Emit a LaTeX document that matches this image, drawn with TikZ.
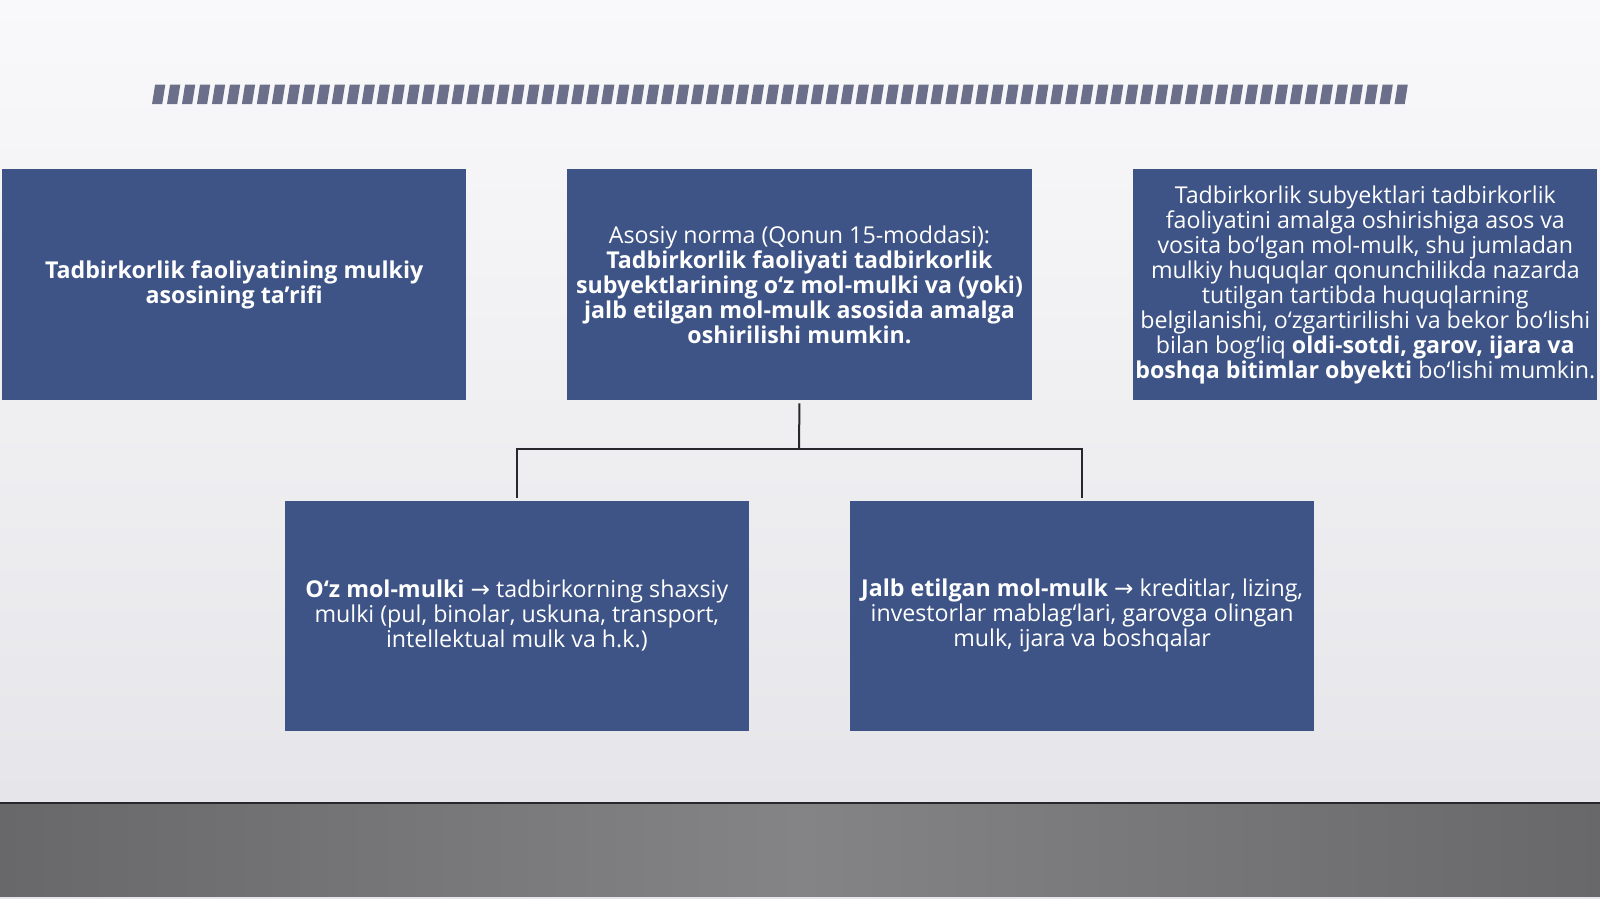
\documentclass[tikz,border=0pt]{standalone}
\usepackage{fontspec}
\setmainfont{Open Sans}
\newfontfamily\arrowfont{DejaVu Sans}
\definecolor{boxblue}{RGB}{62,84,134}
\definecolor{stripe}{RGB}{108,111,138}
\definecolor{bgtop}{RGB}{249,249,251}
\definecolor{bgbot}{RGB}{230,230,234}
\definecolor{floorA}{RGB}{104,104,106}
\definecolor{floorB}{RGB}{132,132,134}
\definecolor{linec}{RGB}{40,40,44}
\newcommand{\arr}{{\arrowfont →}}
\begin{document}
\begin{tikzpicture}[x=0.5102pt,y=-0.5102pt,
  bluebox/.style={fill=boxblue,text=white,inner sep=0pt,
    minimum width=232.1pt,minimum height=115.3pt,align=center,
    font=\fontsize{11.6}{12.5}\selectfont},
  conn/.style={draw=linec,line width=1pt}]
\useasboundingbox (0,0) rectangle (1568,881);
\shade[top color=bgtop,bottom color=bgbot] (0,0) rectangle (1568,786);
\shade[left color=floorA,right color=floorA,middle color=floorB] (0,786) rectangle (1568,879);
\fill[bgbot] (0,879) rectangle (1568,881);
\draw[linec,line width=1pt] (0,787) -- (1568,787);
% dashed bar
\foreach \i in {0,...,83}{
  \fill[stripe] ({149+\i*14.67},102) -- ({159+\i*14.67},102) -- ({162+\i*14.67},83) -- ({152+\i*14.67},83) -- cycle;
}
% boxes
\node[bluebox] (b1) at (229.5,279) {\textbf{Tadbirkorlik faoliyatining mulkiy}\\\textbf{asosining ta{\char"27}rifi}};
\node[bluebox] (b2) at (783.5,279) {Asosiy norma (Qonun 15-moddasi):\\\textbf{Tadbirkorlik faoliyati tadbirkorlik}\\\textbf{subyektlarining o‘z mol-mulki va (yoki)}\\\textbf{jalb etilgan mol-mulk asosida amalga}\\\textbf{oshirilishi mumkin.}};
\node[bluebox] (b3) at (1338,279) {Tadbirkorlik subyektlari tadbirkorlik\\faoliyatini amalga oshirishiga asos va\\vosita bo‘lgan mol-mulk, shu jumladan\\mulkiy huquqlar qonunchilikda nazarda\\tutilgan tartibda huquqlarning\\belgilanishi, o‘zgartirilishi va bekor bo‘lishi\\bilan bog‘liq \textbf{oldi-sotdi, garov, ijara va}\\\textbf{boshqa bitimlar obyekti} bo‘lishi mumkin.};
\node[bluebox] (b4) at (506.5,603.5) {\textbf{O‘z mol-mulki} \arr{} tadbirkorning shaxsiy\\mulki (pul, binolar, uskuna, transport,\\intellektual mulk va h.k.)};
\node[bluebox] (b5) at (1060.5,603.5) {\textbf{Jalb etilgan mol-mulk} \arr{} kreditlar, lizing,\\investorlar mablag‘lari, garovga olingan\\mulk, ijara va boshqalar};
% connectors
\coordinate (j) at (783,440);
\draw[conn,shorten <=1.5pt] (b2.south) -- (j);
\draw[conn,shorten <=1pt,shorten >=1pt] (b4.north) -- (b4.north |- j) -- (b5.north |- j) -- (b5.north);
\end{tikzpicture}
\end{document}
